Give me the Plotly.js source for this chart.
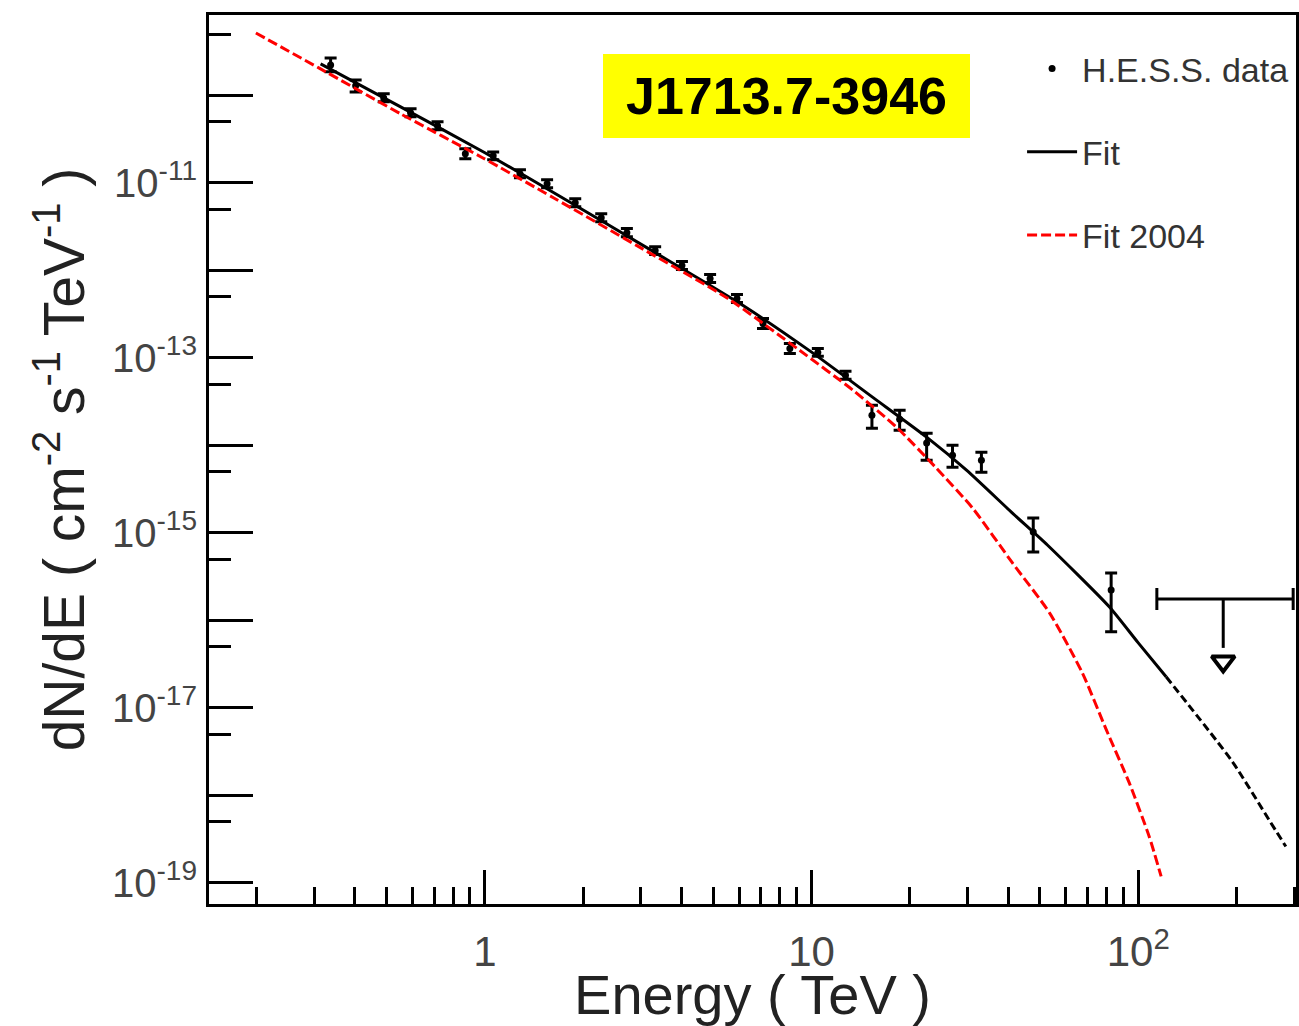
<!DOCTYPE html>
<html><head><meta charset="utf-8">
<script src="https://cdn.plot.ly/plotly-3.0.1.min.js"></script>
<style>html,body{margin:0;padding:0;background:#fff}#chart{width:1299px;height:1026px}</style>
</head><body><div id="chart"></div>
<script>
// H.E.S.S. data points (TeV, cm^-2 s^-1 TeV^-1)
const hessEnergy = [0.337,0.402,0.490,0.592,0.716,0.871,1.06,1.28,1.55,1.89,2.27,2.72,3.32,4.01,4.89,5.91,7.10,8.58,10.45,12.7,15.3,18.6,22.5,27.0,33.1,47.7,82.6];
const hessFlux = [2.21e-10,1.28e-10,9.3e-11,6.28e-11,4.47e-11,2.14e-11,2.03e-11,1.27e-11,9.7e-12,5.9e-12,3.99e-12,2.69e-12,1.68e-12,1.13e-12,8.04e-13,4.75e-13,2.47e-13,1.28e-13,1.15e-13,6.3e-14,2.2e-14,1.99e-14,1.06e-14,7.7e-15,6.76e-15,1.02e-15,2.23e-16];
const hessFluxHigh = [2.66e-10,1.49e-10,1.04e-10,6.98e-11,4.97e-11,2.44e-11,2.25e-11,1.41e-11,1.08e-11,6.58e-12,4.43e-12,2.99e-12,1.86e-12,1.26e-12,8.93e-13,5.28e-13,2.81e-13,1.46e-13,1.28e-13,7.0e-14,2.86e-14,2.51e-14,1.37e-14,1.0e-14,8.34e-15,1.48e-15,3.48e-16];
const hessFluxLow = [1.85e-10,1.09e-10,8.4e-11,5.66e-11,4.02e-11,1.88e-11,1.83e-11,1.14e-11,8.77e-12,5.32e-12,3.59e-12,2.42e-12,1.51e-12,1.02e-12,7.24e-13,4.28e-13,2.16e-13,1.12e-13,1.04e-13,5.68e-14,1.57e-14,1.49e-14,6.76e-15,5.62e-15,4.93e-15,6.04e-16,7.4e-17];

// Upper limit
const ulEnergy = [182];
const ulEnergyLow = [114];
const ulEnergyHigh = [298];
const ulFlux = [1.76e-16];
const ulArrowStart = [4.85e-17];
const ulArrowFlux = [3.4e-17];

// Fit (black)
const fitEnergy = [0.314,0.552,1.0,1.665,3.32,6.17,10.0,15.4,22.5,29.8,41.2,52.7,81.5,100,121.7];
const fitFlux = [2.28e-10,7.36e-11,2.2e-11,7.3e-12,1.59e-12,3.95e-13,1.16e-13,3.53e-14,1.24e-14,5.2e-15,1.68e-15,7.26e-16,1.43e-16,5.53e-17,2.27e-17];
const fitExtEnergy = [121.7,194,251,283];
const fitExtFlux = [2.27e-17,2.44e-18,5.31e-19,2.61e-19];

// Fit 2004 (red)
const fit2004Energy = [0.199,0.310,0.552,0.983,1.62,2.92,5.55,9.21,13.4,18.2,24.1,31.1,41.2,53.5,67.4,79.8,93.8,108,117.5];
const fit2004Flux = [5.13e-10,2.05e-10,6.12e-11,1.93e-11,6.74e-12,1.91e-12,4.75e-13,1.21e-13,4.25e-14,1.61e-14,5.48e-15,1.92e-15,4.53e-16,1.22e-16,2.52e-17,5.64e-18,1.40e-18,3.40e-19,1.19e-19];

// Axis ticks
const xTickVals = [1, 10, 100];
const xTickText = ['1', '10', '10<sup>2</sup>'];
const yTickVals = [1e-10,1e-11,1e-12,1e-13,1e-14,1e-15,1e-16,1e-17,1e-18,1e-19];
const yTickText = [' ', '10<sup>-11</sup>', ' ', '10<sup>-13</sup>', ' ', '10<sup>-15</sup>', ' ', '10<sup>-17</sup>', ' ', '10<sup>-19</sup>'];

const FONT = 'Liberation Sans, Arial, Helvetica, sans-serif';

const xMinor = [];
[0.1, 1, 10, 100].forEach(d => { for (let k = 2; k <= 9; k++) xMinor.push(d * k); });
const yMinor = yTickVals.map(v => v * 5);

const errPlus = hessFluxHigh.map((h, i) => h - hessFlux[i]);
const errMinus = hessFluxLow.map((l, i) => hessFlux[i] - l);

const traces = [
  {
    x: hessEnergy, y: hessFlux, type: 'scatter', mode: 'markers', name: 'H.E.S.S. data',
    legendgroup: 'a',
    marker: {color: '#000', size: 7, symbol: 'circle'},
    error_y: {type: 'data', array: errPlus, arrayminus: errMinus, color: '#000', thickness: 3, width: 6}
  },
  {
    x: fitEnergy, y: fitFlux, type: 'scatter', mode: 'lines', name: 'Fit', legendgroup: 'b',
    line: {color: '#000', width: 3, shape: 'spline', smoothing: 0.6}
  },
  {
    x: fitExtEnergy, y: fitExtFlux, type: 'scatter', mode: 'lines', showlegend: false, legendgroup: 'b',
    line: {color: '#000', width: 3, dash: '8px,4px', shape: 'spline', smoothing: 0.6}
  },
  {
    x: fit2004Energy, y: fit2004Flux, type: 'scatter', mode: 'lines', name: 'Fit 2004', legendgroup: 'c',
    line: {color: '#ff0000', width: 3, dash: '10px,4px', shape: 'spline', smoothing: 0.6}
  },
  {
    x: ulEnergy, y: ulFlux, type: 'scatter', mode: 'markers', showlegend: false,
    marker: {size: 1, color: '#000'},
    error_x: {type: 'data', symmetric: false,
      array: ulEnergyHigh.map((h, i) => h - ulEnergy[i]),
      arrayminus: ulEnergyLow.map((l, i) => ulEnergy[i] - l),
      color: '#000', thickness: 3, width: 11},
    error_y: {type: 'data', symmetric: false, array: [0],
      arrayminus: ulArrowStart.map((a, i) => ulFlux[i] - a),
      color: '#000', thickness: 3, width: 0}
  },
  {
    x: ulEnergy, y: ulArrowFlux, type: 'scatter', mode: 'markers', showlegend: false,
    marker: {symbol: 'triangle-down-open', size: 20, color: '#000', line: {width: 4, color: '#000'}}
  }
];

const layout = {
  width: 1299, height: 1026,
  paper_bgcolor: '#fff', plot_bgcolor: '#fff',
  margin: {l: 209, r: 3, t: 15, b: 122},
  font: {family: FONT, color: '#222'},
  showlegend: true,
  legend: {
    x: 0.748, y: 0.972, xanchor: 'left', yanchor: 'top',
    bgcolor: 'rgba(0,0,0,0)', borderwidth: 0,
    font: {family: FONT, size: 34, color: '#333'},
    itemwidth: 50, tracegroupgap: 36, traceorder: 'grouped'
  },
  xaxis: {
    type: 'log', range: [Math.log10(0.143), Math.log10(304)],
    showgrid: false, zeroline: false,
    showline: true, linecolor: '#000', linewidth: 3, mirror: true,
    tickmode: 'array', tickvals: xTickVals, ticktext: xTickText,
    ticks: 'inside', ticklen: 34, tickwidth: 3, tickcolor: '#000',
    tickfont: {family: FONT, size: 42, color: '#444'},
    ticklabelstandoff: 9,
    minor: {tickmode: 'array', tickvals: xMinor, ticks: 'inside', ticklen: 17, tickwidth: 3, tickcolor: '#000', showgrid: false},
    title: {text: 'Energy ( TeV )', font: {family: FONT, size: 56, color: '#222'}, standoff: 0}
  },
  yaxis: {
    type: 'log', range: [-19.24, -9.084],
    showgrid: false, zeroline: false,
    showline: true, linecolor: '#000', linewidth: 3, mirror: true,
    tickmode: 'array', tickvals: yTickVals, ticktext: yTickText,
    ticks: 'inside', ticklen: 44, tickwidth: 3, tickcolor: '#000',
    tickfont: {family: FONT, size: 40, color: '#444'},
    ticklabelstandoff: 1,
    minor: {tickmode: 'array', tickvals: yMinor, ticks: 'inside', ticklen: 22, tickwidth: 3, tickcolor: '#000', showgrid: false},
    title: {text: 'dN/dE ( cm<sup>-2</sup> s<sup>-1</sup> TeV<sup>-1</sup> )', font: {family: FONT, size: 57, color: '#222'}, standoff: 10}
  },
  annotations: [{
    xref: 'paper', yref: 'paper', x: 0.5317, y: 0.9089, xanchor: 'center', yanchor: 'middle',
    text: '<b>J1713.7-3946</b>', showarrow: false,
    font: {family: FONT, size: 52, color: '#000'},
    bgcolor: '#ffff00', width: 367, height: 84, borderpad: 0, borderwidth: 0
  }]
};

Plotly.newPlot('chart', traces, layout, {displayModeBar: false, staticPlot: true});
</script>
</body></html>
